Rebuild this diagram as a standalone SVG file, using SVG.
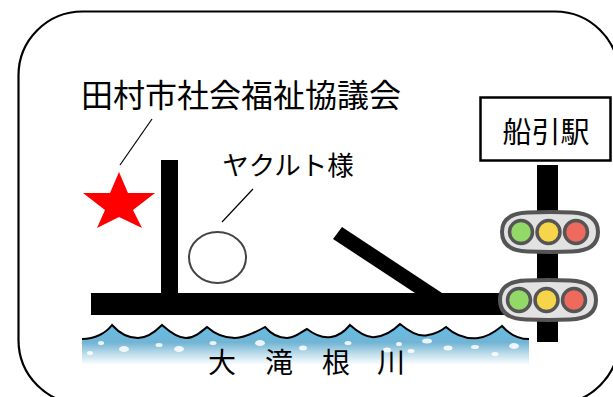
<svg xmlns="http://www.w3.org/2000/svg" width="613" height="397" viewBox="0 0 613 397">
<style>
text{font-family:"Noto Sans CJK JP","Noto Sans",sans-serif;fill:#000;text-anchor:middle}
.rail{fill:#000}
.leader{stroke:#000;stroke-width:1.2;fill:none}
.body{fill:#e2e2e2;stroke:#555;stroke-width:4}
.lamp{stroke:#555;stroke-width:3.500}
</style>
<defs>
<linearGradient id="water" x1="0" y1="0" x2="0" y2="1">
<stop offset="0" stop-color="#62bfe9"/><stop offset=".45" stop-color="#72b4d4"/><stop offset=".72" stop-color="#bcdcea"/><stop offset="1" stop-color="#fff"/>
</linearGradient>
<g id="signal">
<path class="body" d="M-48 0C-48 -13 -38 -19 -22 -19.500C-8 -20 10 -20 22 -19.500C38 -19 48 -13 48 0C48 13 38 19 22 19.500C10 20 -8 20 -22 19.500C-38 19 -48 13 -48 0Z"/>
<circle class="lamp" cx="-29" cy="0" r="11.500" fill="#93d968"/>
<circle class="lamp" cx="-1.500" cy="0" r="11.500" fill="#f6d54a"/>
<circle class="lamp" cx="26" cy="0" r="11.500" fill="#ee6a5c"/>
</g>
</defs>
<rect width="613" height="397" fill="#fff"/>
<rect x="18.500" y="11.500" width="600.500" height="392.500" rx="64" fill="none" stroke="#000" stroke-width="2.200"/>
<g id="river">
<path d="M82 339C95 339 106 333 112 325C120 334 130 338 138 338C147 338 155 332 162 325C172 334 180 338 186 338C194 338 201 332 207 327C216 335 226 338 235 338C245 338 256 332 265 327C272 335 280 338 287 338C295 338 301 332 307 329C316 336 324 338 331 337C339 336 345 331 350 325C360 334 368 338 375 337C384 336 393 331 400 324C412 334 421 337 428 335C435 334 441 331 446 327C456 336 468 339 478 338C488 337 496 331 502 326C510 335 518 339 529 339V365H82Z" fill="url(#water)" stroke="none"/>
<path d="M82 339C95 339 106 333 112 325C120 334 130 338 138 338C147 338 155 332 162 325C172 334 180 338 186 338C194 338 201 332 207 327C216 335 226 338 235 338C245 338 256 332 265 327C272 335 280 338 287 338C295 338 301 332 307 329C316 336 324 338 331 337C339 336 345 331 350 325C360 334 368 338 375 337C384 336 393 331 400 324C412 334 421 337 428 335C435 334 441 331 446 327C456 336 468 339 478 338C488 337 496 331 502 326C510 335 518 339 529 339" fill="none" stroke="#000" stroke-width="2"/>
<g fill="#fff" opacity=".85">
<ellipse cx="101" cy="343" rx="3" ry="2"/><ellipse cx="124" cy="349" rx="5" ry="3"/><ellipse cx="90" cy="353" rx="3" ry="2"/><ellipse cx="159" cy="345" rx="3.500" ry="2"/><ellipse cx="179" cy="349" rx="5" ry="3"/><ellipse cx="213" cy="343" rx="3.500" ry="2"/><ellipse cx="260" cy="343" rx="5" ry="3"/><ellipse cx="303" cy="348" rx="4" ry="2.500"/><ellipse cx="348" cy="343" rx="3.500" ry="2"/><ellipse cx="399" cy="344" rx="3" ry="2"/><ellipse cx="427" cy="341" rx="5" ry="2.500"/><ellipse cx="411" cy="351" rx="3.500" ry="2"/><ellipse cx="448" cy="348" rx="4.500" ry="2.500"/><ellipse cx="475" cy="347" rx="4" ry="2"/><ellipse cx="495" cy="354" rx="3.500" ry="2"/><ellipse cx="514" cy="346" rx="5" ry="3"/><ellipse cx="387" cy="350" rx="4" ry="2.500"/>
</g>
<g font-size="28"><text x="222" y="373">大</text><text x="279" y="373">滝</text><text x="336" y="373">根</text><text x="391" y="373">川</text></g>
</g>
<g id="connectors">
<rect class="rail" x="161" y="160" width="17" height="140"/>
<polygon class="rail" points="342,227 442,293 415,293 333,239"/>
<rect class="rail" x="91" y="293" width="420" height="22"/>
<rect class="rail" x="537" y="165" width="21" height="177"/>
<line class="leader" x1="152" y1="119" x2="120" y2="165"/>
<line class="leader" x1="253" y1="189" x2="222" y2="222"/>
</g>
<g id="label-shakyo"><text x="241" y="107" font-size="32">田村市社会福祉協議会</text></g>
<g id="star"><polygon points="119,172 128,193 155,193 133,210 142,228 119,217 97,228 105,210 83,193 110,193" fill="#f00"/></g>
<g id="yakult"><text x="288" y="175" font-size="26.500">ヤクルト様</text>
<ellipse cx="217.500" cy="257.500" rx="28.500" ry="25.500" fill="#fff" stroke="#444" stroke-width="2"/></g>
<g id="station"><rect x="480.500" y="97.500" width="130" height="63" fill="#fff" stroke="#000" stroke-width="2.500"/>
<text x="546" y="143" font-size="29">船引駅</text></g>
<g id="signal-upper"><use href="#signal" transform="translate(550 232)"/></g>
<g id="signal-lower"><use href="#signal" transform="translate(548 300)"/></g>
</svg>
